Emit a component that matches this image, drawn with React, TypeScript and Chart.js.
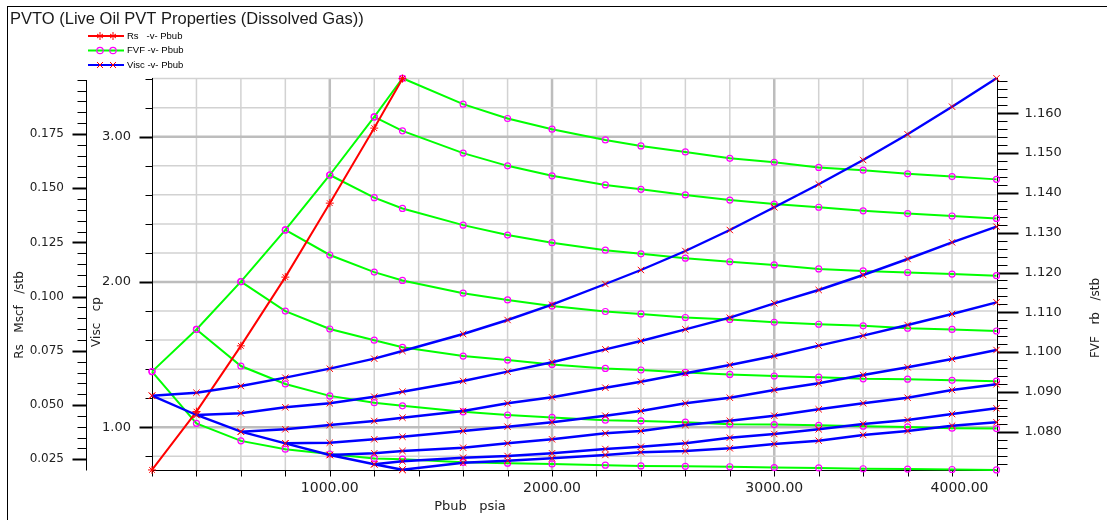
import { useEffect, useRef } from 'react';
import { Chart, registerables } from 'chart.js';

Chart.register(...registerables);

// Pressure grid of the PVTO table (psia)
const pressures = [200, 400, 600, 800, 1000, 1200, 1327, 1600, 1800, 2000, 2240, 2400, 2600, 2800, 3000, 3200, 3400, 3600, 3800, 4000];

// Saturated (bubble point) rows
const bubblePoints = [200, 400, 600, 800, 1000, 1200, 1327];
const rsSaturated = [0.0201, 0.047, 0.0773, 0.109, 0.1431, 0.1777, 0.2005];

// Oil FVF (rb/stb), one branch per bubble point, from Pbub up to 4000 psia
const fvfPb200 = [1.0951, 1.0821, 1.0777, 1.0756, 1.0744, 1.0733, 1.0731, 1.0723, 1.0721, 1.0719, 1.0716, 1.0714, 1.0713, 1.0712, 1.071, 1.0709, 1.0707, 1.0706, 1.0705, 1.0704];
const fvfPb400 = [1.1057, 1.0965, 1.092, 1.089, 1.0873, 1.0865, 1.085, 1.0842, 1.0836, 1.0829, 1.0827, 1.0824, 1.0819, 1.0818, 1.0816, 1.0814, 1.0812, 1.0809, 1.0808];
const fvfPb600 = [1.1177, 1.1103, 1.1058, 1.103, 1.1012, 1.099, 1.098, 1.0969, 1.0959, 1.0955, 1.0949, 1.0944, 1.094, 1.0937, 1.0933, 1.0932, 1.0929, 1.0927];
const fvfPb800 = [1.1307, 1.1244, 1.1201, 1.118, 1.1148, 1.1131, 1.1116, 1.1102, 1.1096, 1.1087, 1.1082, 1.1075, 1.107, 1.1066, 1.106, 1.1057, 1.1053];
const fvfPb1000 = [1.1445, 1.1388, 1.1361, 1.1319, 1.1294, 1.1275, 1.1256, 1.1247, 1.1236, 1.1227, 1.1219, 1.1209, 1.1204, 1.12, 1.1196, 1.1192];
const fvfPb1200 = [1.1591, 1.1556, 1.15, 1.1468, 1.1443, 1.142, 1.1409, 1.1395, 1.1382, 1.1372, 1.1364, 1.1355, 1.1348, 1.1342, 1.1336];
const fvfPb1327 = [1.1688, 1.1623, 1.1587, 1.156, 1.1533, 1.1518, 1.1503, 1.1487, 1.1477, 1.1464, 1.1457, 1.1448, 1.1441, 1.1434];

// Oil viscosity (cp), same branch layout
const viscPb200 = [1.2175, 1.2381, 1.2842, 1.3414, 1.4033, 1.4721, 1.5251, 1.6421, 1.7385, 1.8438, 1.9862, 2.0826, 2.2134, 2.3579, 2.5141, 2.6724, 2.8396, 3.0165, 3.2065, 3.4019];
const viscPb400 = [1.0847, 1.0964, 1.1376, 1.1652, 1.2106, 1.245, 1.3187, 1.3827, 1.4474, 1.5368, 1.594, 1.6745, 1.7543, 1.8534, 1.9449, 2.0482, 2.1583, 2.2732, 2.3806];
const viscPb600 = [0.9697, 0.9862, 1.0158, 1.0434, 1.0661, 1.1122, 1.1652, 1.2065, 1.2725, 1.3138, 1.3716, 1.4288, 1.4907, 1.5616, 1.6304, 1.7041, 1.7798, 1.8603];
const viscPb800 = [0.8899, 0.894, 0.9174, 0.9353, 0.9745, 1.0041, 1.0344, 1.0798, 1.1122, 1.1652, 1.2037, 1.2567, 1.3028, 1.3599, 1.4129, 1.4701, 1.532];
const viscPb1000 = [0.8094, 0.8211, 0.8369, 0.8596, 0.8899, 0.9174, 0.9587, 0.9745, 1.0158, 1.0454, 1.0798, 1.1239, 1.1652, 1.2037, 1.2567, 1.2959];
const viscPb1200 = [0.7454, 0.766, 0.7908, 0.8025, 0.8211, 0.8507, 0.8665, 0.8899, 0.9284, 0.9539, 0.9862, 1.0227, 1.0502, 1.0915, 1.1308];
const viscPb1327 = [0.708, 0.7564, 0.7701, 0.7866, 0.8094, 0.8279, 0.8369, 0.8555, 0.8851, 0.9078, 0.947, 0.9745, 1.011, 1.0344];

const fvfBranches = [fvfPb200, fvfPb400, fvfPb600, fvfPb800, fvfPb1000, fvfPb1200, fvfPb1327];
const viscBranches = [viscPb200, viscPb400, viscPb600, viscPb800, viscPb1000, viscPb1200, viscPb1327];

// Axis ranges and tick labels
const X_MIN = 200, X_MAX = 4000, X_STEP = 200;
const RS_MIN = 0.02007, RS_MAX = 0.2008, RS_STEP = 0.005;
const VISC_MIN = 0.7061, VISC_MAX = 3.404, VISC_STEP = 0.2;
const FVF_MIN = 1.07038, FVF_MAX = 1.16887, FVF_STEP = 0.002;

const xTickValues = [1000, 2000, 3000, 4000];
const xTickLabels = ['1000.00', '2000.00', '3000.00', '4000.00'];
const rsTickValues = [0.025, 0.05, 0.075, 0.1, 0.125, 0.15, 0.175];
const rsTickLabels = ['0.025', '0.050', '0.075', '0.100', '0.125', '0.150', '0.175'];
const viscTickValues = [1, 2, 3];
const viscTickLabels = ['1.00', '2.00', '3.00'];
const fvfTickValues = [1.08, 1.09, 1.1, 1.11, 1.12, 1.13, 1.14, 1.15, 1.16];
const fvfTickLabels = ['1.080', '1.090', '1.100', '1.110', '1.120', '1.130', '1.140', '1.150', '1.160'];

const chartTitle = 'PVTO (Live Oil PVT Properties (Dissolved Gas))';
const legendLabels = ['Rs   -v- Pbub', 'FVF -v- Pbub', 'Visc -v- Pbub'];
const rsAxisTitle = 'Rs   Mscf   /stb';
const viscAxisTitle = 'Visc   cp';
const fvfAxisTitle = 'FVF   rb   /stb';
const xAxisTitle = 'Pbub   psia';

const GREEN = '#00ff00';
const BLUE = '#0000ff';
const RED = '#ff0000';
const MAGENTA = '#ff00ff';
const TICK_FONT = '"DejaVu Sans", Verdana, sans-serif';

function stepValues(min: number, max: number, step: number) {
  const out: number[] = [];
  for (let k = Math.ceil(min / step - 1e-9); k * step <= max + 1e-9; k++) out.push(Number((k * step).toFixed(6)));
  return out;
}

function isMajor(v: number, majors: number[], step: number) {
  return majors.some((m) => Math.abs(m - v) < step / 10);
}

function seg(ctx: CanvasRenderingContext2D, x1: number, y1: number, x2: number, y2: number, color: string, w: number) {
  ctx.beginPath();
  ctx.strokeStyle = color;
  ctx.lineWidth = w;
  ctx.moveTo(x1, y1);
  ctx.lineTo(x2, y2);
  ctx.stroke();
}

function vText(ctx: CanvasRenderingContext2D, text: string, cx: number, cy: number) {
  ctx.save();
  ctx.translate(cx, cy);
  ctx.rotate(-Math.PI / 2);
  ctx.textAlign = 'center';
  ctx.textBaseline = 'middle';
  ctx.fillText(text, 0, 0);
  ctx.restore();
}

const RS_AXIS_X = 86.5;

const pvtFrame = {
  id: 'pvtFrame',
  beforeDatasetsDraw(chart: any) {
    const { ctx, chartArea: a, scales } = chart;
    const sx = scales.x, sv = scales.yVisc, sr = scales.yRs, sf = scales.yFvf;
    ctx.save();

    // grid: every 200 psia vertically, every 0.2 cp horizontally
    for (const p of stepValues(X_MIN, X_MAX, X_STEP)) {
      if (p === X_MIN || p === X_MAX) continue;
      const major = isMajor(p, xTickValues, X_STEP);
      const px = sx.getPixelForValue(p);
      seg(ctx, px, a.top, px, a.bottom, major ? '#bdbdbd' : '#d2d2d2', major ? 2.5 : 1.5);
    }
    for (const v of stepValues(VISC_MIN, VISC_MAX, VISC_STEP)) {
      const major = isMajor(v, viscTickValues, VISC_STEP);
      const py = sv.getPixelForValue(v);
      seg(ctx, a.left, py, a.right, py, major ? '#bdbdbd' : '#d2d2d2', major ? 2.5 : 1.5);
    }

    // axis lines
    const L = Math.round(a.left) + 0.5;
    const R = Math.round(a.right) + 0.5;
    const B = Math.round(a.bottom) + 0.5;
    seg(ctx, L, a.top, L, B, '#000', 1);
    seg(ctx, R, a.top, R, B, '#000', 1);
    seg(ctx, L, B, R, B, '#000', 1);
    seg(ctx, RS_AXIS_X, a.top + 2, RS_AXIS_X, B, '#000', 1);

    // Rs ticks
    for (const v of stepValues(RS_MIN, RS_MAX, RS_STEP)) {
      const major = isMajor(v, rsTickValues, RS_STEP);
      const py = Math.round(sr.getPixelForValue(v)) + 0.5;
      seg(ctx, RS_AXIS_X - (major ? 14 : 9), py, RS_AXIS_X, py, '#000', major ? 2 : 1);
    }
    // Visc ticks
    for (const v of stepValues(VISC_MIN, VISC_MAX, VISC_STEP)) {
      const major = isMajor(v, viscTickValues, VISC_STEP);
      const py = Math.round(sv.getPixelForValue(v)) + 0.5;
      seg(ctx, L - (major ? 13 : 7), py, L, py, '#000', major ? 2 : 1);
    }
    // FVF ticks
    for (const v of stepValues(FVF_MIN, FVF_MAX, FVF_STEP)) {
      const major = isMajor(v, fvfTickValues, FVF_STEP);
      const py = Math.round(sf.getPixelForValue(v)) + 0.5;
      seg(ctx, R, py, R + (major ? 21 : 10), py, '#000', major ? 2 : 1);
    }
    // Pressure ticks
    for (const p of stepValues(X_MIN, X_MAX, X_STEP)) {
      const px = Math.round(sx.getPixelForValue(p)) + 0.5;
      seg(ctx, px, B, px, B + 6, '#000', 1);
    }
    ctx.restore();
  },
  afterDraw(chart: any) {
    const { ctx, chartArea: a, scales } = chart;
    const sx = scales.x, sv = scales.yVisc, sr = scales.yRs, sf = scales.yFvf;
    ctx.save();
    ctx.fillStyle = '#222';

    // tick labels
    ctx.textBaseline = 'middle';
    ctx.textAlign = 'right';
    ctx.font = `12px ${TICK_FONT}`;
    rsTickValues.forEach((v, i) => ctx.fillText(rsTickLabels[i], 64, sr.getPixelForValue(v)));
    ctx.font = `13px ${TICK_FONT}`;
    viscTickValues.forEach((v, i) => ctx.fillText(viscTickLabels[i], 131, sv.getPixelForValue(v)));
    ctx.textAlign = 'left';
    fvfTickValues.forEach((v, i) => ctx.fillText(fvfTickLabels[i], a.right + 28, sf.getPixelForValue(v)));
    ctx.font = `14px ${TICK_FONT}`;
    ctx.textBaseline = 'top';
    xTickValues.forEach((p, i) => {
      const px = sx.getPixelForValue(p);
      const w = ctx.measureText(xTickLabels[i]).width;
      if (px + w / 2 > a.right) {
        ctx.textAlign = 'right';
        ctx.fillText(xTickLabels[i], a.right - 8, a.bottom + 11);
      } else {
        ctx.textAlign = 'center';
        ctx.fillText(xTickLabels[i], px, a.bottom + 11);
      }
    });

    // axis titles
    ctx.font = `12px ${TICK_FONT}`;
    ctx.fillStyle = '#222';
    vText(ctx, rsAxisTitle, 20, 315);
    vText(ctx, viscAxisTitle, 97, 322);
    vText(ctx, fvfAxisTitle, 1096, 318);
    ctx.textAlign = 'center';
    ctx.textBaseline = 'middle';
    ctx.font = `13px ${TICK_FONT}`;
    ctx.fillText(xAxisTitle, 470, 507);

    // chart title
    ctx.textAlign = 'left';
    ctx.textBaseline = 'alphabetic';
    ctx.font = '16.5px "Liberation Sans", Arial, sans-serif';
    ctx.fillStyle = '#1a1a1a';
    ctx.fillText(chartTitle, 10, 24);

    // legend
    const rows = [36, 50.5, 65];
    const colors = [RED, GREEN, BLUE];
    rows.forEach((y, i) => {
      seg(ctx, 88, y, 124, y, colors[i], 2);
      for (const mx of [100, 113]) {
        ctx.lineWidth = 1;
        if (i === 0) {
          ctx.strokeStyle = RED;
          ctx.beginPath();
          ctx.moveTo(mx, y - 4); ctx.lineTo(mx, y + 4);
          ctx.moveTo(mx - 3, y - 2); ctx.lineTo(mx + 3, y + 2);
          ctx.moveTo(mx - 3, y + 2); ctx.lineTo(mx + 3, y - 2);
          ctx.stroke();
        } else if (i === 1) {
          ctx.strokeStyle = MAGENTA;
          ctx.lineWidth = 1.2;
          ctx.beginPath();
          ctx.arc(mx, y, 3.2, 0, Math.PI * 2);
          ctx.stroke();
        } else {
          ctx.strokeStyle = RED;
          ctx.beginPath();
          ctx.moveTo(mx - 3, y - 3); ctx.lineTo(mx + 3, y + 3);
          ctx.moveTo(mx - 3, y + 3); ctx.lineTo(mx + 3, y - 3);
          ctx.stroke();
        }
      }
      ctx.fillStyle = '#000';
      ctx.font = '9.5px "Liberation Sans", Arial, sans-serif';
      ctx.textAlign = 'left';
      ctx.textBaseline = 'middle';
      ctx.fillText(legendLabels[i], 127, y);
    });

    // outer frame
    seg(ctx, 7, 6.5, 1107, 6.5, '#000', 1);
    seg(ctx, 7.5, 6, 7.5, 520, '#000', 1);
    ctx.restore();
  },
};

function branchPoints(values: number[], pb: number) {
  const start = pressures.indexOf(pb);
  return values.map((v, i) => ({ x: pressures[start + i], y: v }));
}

function buildDatasets() {
  const green = {
    borderColor: GREEN,
    borderWidth: 2,
    pointStyle: 'circle',
    pointRadius: 3,
    pointBorderColor: MAGENTA,
    pointBackgroundColor: 'rgba(0,0,0,0)',
    pointBorderWidth: 1.2,
    yAxisID: 'yFvf',
    order: 2,
    clip: false,
    fill: false,
  };
  const blue = {
    borderColor: BLUE,
    borderWidth: 2.4,
    pointStyle: 'crossRot',
    pointRadius: 4.5,
    pointBorderColor: RED,
    pointBackgroundColor: RED,
    pointBorderWidth: 1,
    yAxisID: 'yVisc',
    order: 0,
    clip: false,
    fill: false,
  };
  const datasets: any[] = [];
  datasets.push({
    label: 'Rs -v- Pbub',
    data: bubblePoints.map((p, j) => ({ x: p, y: rsSaturated[j] })),
    borderColor: RED,
    borderWidth: 2,
    pointStyle: 'star',
    pointRadius: 4,
    pointBorderColor: RED,
    pointBorderWidth: 1,
    yAxisID: 'yRs',
    order: 1,
    clip: false,
    fill: false,
  });
  datasets.push({ label: 'FVF -v- Pbub', data: bubblePoints.map((p, j) => ({ x: p, y: fvfBranches[j][0] })), ...green });
  fvfBranches.forEach((b, j) => datasets.push({ label: `FVF Pb ${bubblePoints[j]}`, data: branchPoints(b, bubblePoints[j]), ...green }));
  datasets.push({ label: 'Visc -v- Pbub', data: bubblePoints.map((p, j) => ({ x: p, y: viscBranches[j][0] })), ...blue });
  viscBranches.forEach((b, j) => datasets.push({ label: `Visc Pb ${bubblePoints[j]}`, data: branchPoints(b, bubblePoints[j]), ...blue }));
  return datasets;
}

export default function App() {
  const canvasRef = useRef<HTMLCanvasElement>(null);

  useEffect(() => {
    if (!canvasRef.current) return;
    const chart = new Chart(canvasRef.current, {
      type: 'line',
      data: { datasets: buildDatasets() },
      options: {
        responsive: false,
        animation: false,
        events: [],
        layout: { padding: { left: 152, right: 110.5, top: 78, bottom: 50 } },
        elements: { line: { tension: 0 } },
        plugins: {
          legend: { display: false },
          title: { display: false },
          tooltip: { enabled: false },
        },
        scales: {
          x: { type: 'linear', display: false, min: X_MIN, max: X_MAX },
          yRs: { type: 'linear', display: false, min: RS_MIN, max: RS_MAX },
          yVisc: { type: 'linear', display: false, min: VISC_MIN, max: VISC_MAX },
          yFvf: { type: 'linear', display: false, min: FVF_MIN, max: FVF_MAX },
        },
      },
      plugins: [pvtFrame],
    } as any);
    return () => chart.destroy();
  }, []);

  return (
    <div style={{ position: 'fixed', left: 0, top: 0, width: 1107, height: 520, background: '#fff' }}>
      <canvas ref={canvasRef} width={1107} height={520} style={{ display: 'block', width: 1107, height: 520 }} />
    </div>
  );
}
